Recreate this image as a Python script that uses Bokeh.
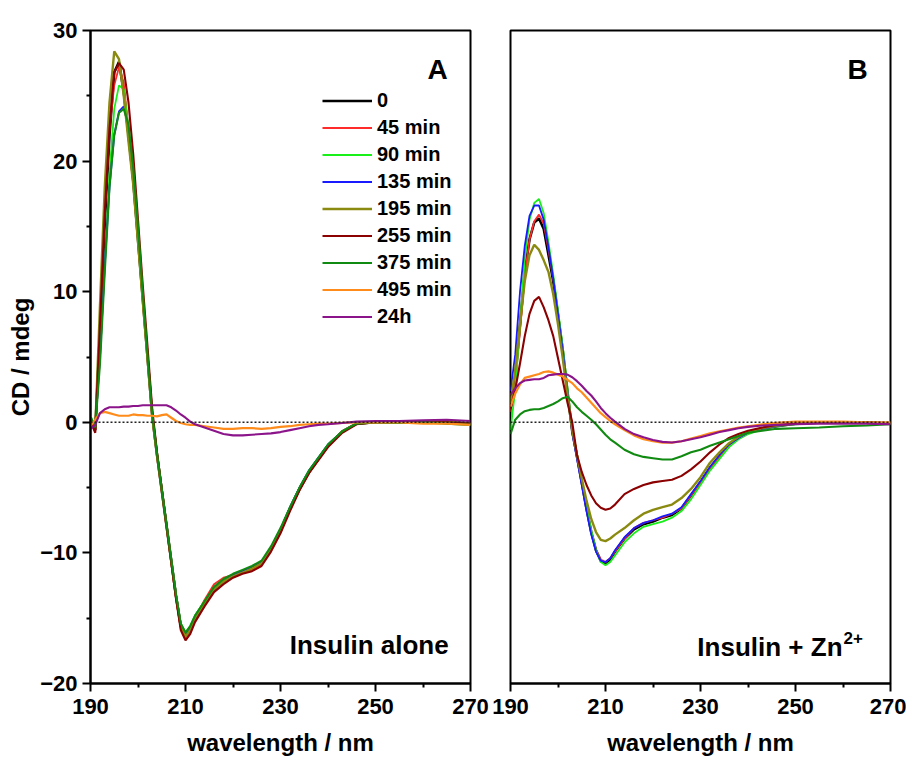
from bokeh.plotting import figure
from bokeh.models import Legend, LegendItem, Span, Label, Range1d, FixedTicker
from bokeh.layouts import row
from bokeh.embed import file_html
from bokeh.resources import INLINE

# ---------------- data ----------------
wavelength = [190, 191, 192, 193, 194, 195, 196, 197, 198, 199,
              200, 201, 202, 203, 204, 205, 206, 207, 208, 209,
              210, 211, 212,
              214, 216, 218, 220, 222, 224, 226, 228, 230, 232, 234, 236, 238, 240,
              243, 246, 250, 255, 260, 265, 270]

series_labels = ["0", "45 min", "90 min", "135 min", "195 min", "255 min", "375 min", "495 min", "24h"]

# Panel A: insulin alone
A_0 = [0.3, -0.6, 7.0, 15.2, 22.0, 26.8, 27.6, 25.3, 22.0, 18.5,
       14.0, 9.5, 5.0, 0.5, -2.5, -5.2, -7.9, -10.6, -13.3, -15.6,
       -16.3, -15.8, -15.0,
       -13.9, -12.8, -12.2, -11.8, -11.5, -11.2, -10.8, -9.7, -8.3, -6.6, -5.1, -3.8, -2.8, -1.8,
       -0.7, -0.1, 0.0, 0.0, 0.05, 0.05, -0.1]
A_45 = [0.2, -0.4, 7.5, 16.0, 22.5, 25.8, 27.2, 26.0, 22.4, 18.6,
        14.0, 9.4, 4.9, 0.4, -2.6, -5.3, -8.0, -10.7, -13.4, -15.8,
        -16.5, -16.0, -15.0,
        -13.6, -12.4, -11.9, -11.7, -11.5, -11.3, -10.9, -9.8, -8.4, -6.7, -5.2, -3.9, -2.8, -1.8,
        -0.7, -0.1, 0.0, 0.0, 0.05, 0.0, -0.1]
A_90 = [0.5, -0.3, 5.0, 12.0, 19.0, 24.0, 25.8, 25.5, 22.5, 18.8,
        14.2, 9.6, 5.0, 0.5, -2.4, -5.1, -7.8, -10.5, -13.2, -15.4,
        -16.1, -15.6, -14.8,
        -13.7, -12.7, -12.1, -11.7, -11.4, -11.1, -10.7, -9.6, -8.2, -6.5, -5.0, -3.7, -2.7, -1.7,
        -0.7, -0.1, 0.0, 0.0, 0.05, 0.05, -0.15]
A_135 = [0.4, -0.4, 5.0, 12.0, 18.0, 22.0, 23.8, 24.2, 22.5, 19.0,
         14.3, 9.7, 5.1, 0.6, -2.4, -5.1, -7.8, -10.5, -13.2, -15.5,
         -16.2, -15.7, -14.9,
         -13.8, -12.8, -12.2, -11.7, -11.4, -11.1, -10.7, -9.6, -8.2, -6.5, -5.0, -3.7, -2.7, -1.7,
         -0.7, -0.1, 0.0, 0.0, 0.0, 0.05, -0.1]
A_195 = [0.3, -0.5, 9.0, 18.0, 24.5, 28.4, 27.8, 25.0, 21.5, 18.2,
         13.8, 9.3, 4.9, 0.4, -2.5, -5.2, -7.9, -10.6, -13.3, -15.6,
         -16.4, -15.9, -15.0,
         -13.9, -12.8, -12.2, -11.8, -11.5, -11.2, -10.8, -9.7, -8.3, -6.6, -5.1, -3.8, -2.8, -1.8,
         -0.7, -0.1, 0.0, 0.0, 0.05, 0.05, -0.1]
A_255 = [0.1, -0.8, 7.5, 16.0, 22.5, 26.8, 27.5, 27.0, 24.5, 20.5,
         15.5, 10.5, 5.8, 1.0, -2.3, -5.1, -7.9, -10.7, -13.5, -15.9,
         -16.7, -16.2, -15.3,
         -14.1, -13.0, -12.4, -11.9, -11.6, -11.4, -11.0, -9.9, -8.5, -6.8, -5.2, -3.9, -2.9, -1.9,
         -0.8, -0.15, 0.0, 0.0, 0.0, 0.0, -0.1]
A_375 = [0.4, -0.4, 4.5, 11.5, 18.0, 22.0, 23.7, 24.0, 22.8, 19.5,
         15.0, 10.0, 5.2, 0.6, -2.4, -5.1, -7.8, -10.5, -13.2, -15.4,
         -16.1, -15.6, -14.8,
         -13.7, -12.6, -12.0, -11.6, -11.3, -11.0, -10.6, -9.5, -8.1, -6.5, -5.0, -3.7, -2.7, -1.7,
         -0.7, -0.1, 0.0, -0.05, 0.0, -0.1, -0.2]
A_495 = [-0.3, 0.2, 0.7, 0.8, 0.7, 0.6, 0.5, 0.5, 0.5, 0.6,
         0.55, 0.55, 0.5, 0.5, 0.45, 0.55, 0.6, 0.35, 0.1, -0.05,
         -0.15, -0.2, -0.2,
         -0.3, -0.4, -0.5, -0.5, -0.45, -0.45, -0.5, -0.45, -0.35, -0.3, -0.2, -0.15, -0.1, -0.1,
         -0.05, 0.0, 0.0, 0.0, -0.1, -0.1, -0.2]
A_24h = [-0.5, -0.2, 0.7, 1.0, 1.15, 1.15, 1.15, 1.2, 1.2, 1.25,
         1.25, 1.3, 1.3, 1.3, 1.3, 1.3, 1.3, 1.15, 0.9, 0.6,
         0.35, 0.05, -0.15,
         -0.4, -0.65, -0.9, -1.0, -1.0, -0.95, -0.9, -0.85, -0.75, -0.6, -0.45, -0.3, -0.2, -0.15,
         -0.05, 0.05, 0.1, 0.1, 0.15, 0.2, 0.1]

# Panel B: insulin + Zn2+
B_0 = [1.0, 3.5, 7.5, 11.5, 14.0, 15.3, 15.6, 14.8, 12.8, 10.8,
       8.2, 5.5, 2.3, -0.7, -2.6, -4.6, -6.6, -8.4, -9.8, -10.6,
       -10.8, -10.5, -9.9,
       -8.9, -8.2, -7.8, -7.6, -7.3, -7.1, -6.6, -5.6, -4.6, -3.5, -2.6, -1.8, -1.2, -0.8,
       -0.5, -0.3, -0.1, 0.0, 0.0, 0.0, -0.1]
B_45 = [0.8, 3.0, 7.0, 11.2, 14.0, 15.4, 15.9, 15.2, 13.2, 11.0,
        8.4, 5.6, 2.4, -0.6, -2.6, -4.6, -6.6, -8.4, -9.8, -10.5,
        -10.7, -10.4, -9.9,
        -8.9, -8.1, -7.7, -7.5, -7.3, -7.0, -6.6, -5.6, -4.6, -3.5, -2.6, -1.8, -1.2, -0.8,
        -0.5, -0.3, -0.1, 0.0, 0.0, 0.0, -0.1]
B_90 = [-0.6, 2.5, 7.5, 12.5, 15.5, 16.8, 17.1, 16.0, 13.8, 11.3,
        8.6, 5.8, 2.6, -0.5, -2.5, -4.5, -6.5, -8.3, -9.8, -10.7,
        -10.95, -10.7, -10.2,
        -9.2, -8.5, -8.0, -7.8, -7.6, -7.3, -6.8, -5.9, -4.8, -3.7, -2.8, -1.9, -1.3, -0.9,
        -0.55, -0.3, -0.15, -0.05, 0.0, 0.0, -0.1]
B_135 = [2.4, 5.2, 10.0, 13.5, 15.8, 16.6, 16.6, 15.5, 13.4, 11.0,
         8.3, 5.5, 2.3, -0.8, -2.8, -4.8, -6.8, -8.6, -9.9, -10.6,
         -10.7, -10.4, -9.8,
         -8.8, -8.1, -7.7, -7.5, -7.2, -7.0, -6.5, -5.5, -4.5, -3.4, -2.5, -1.7, -1.2, -0.8,
         -0.5, -0.3, -0.1, 0.0, 0.0, 0.0, -0.1]
B_195 = [1.5, 4.0, 7.5, 10.8, 12.8, 13.6, 13.2, 12.4, 11.5, 9.8,
         7.5, 4.9, 2.0, -0.6, -2.5, -4.3, -6.0, -7.4, -8.4, -9.0,
         -9.1, -8.9, -8.6,
         -8.1, -7.5, -7.0, -6.7, -6.5, -6.3, -5.8, -5.1, -4.2, -3.1, -2.3, -1.6, -1.1, -0.75,
         -0.45, -0.25, -0.1, 0.0, 0.0, 0.0, -0.1]
B_255 = [1.0, 2.5, 4.5, 6.6, 8.3, 9.3, 9.6, 8.8, 7.8, 6.6,
         4.9, 3.2, 1.5, 0.0, -2.5, -3.8, -4.8, -5.6, -6.2, -6.55,
         -6.7, -6.6, -6.3,
         -5.5, -5.1, -4.8, -4.6, -4.5, -4.4, -4.1, -3.6, -3.0, -2.3, -1.7, -1.2, -0.9, -0.65,
         -0.4, -0.2, -0.1, 0.0, 0.0, 0.0, -0.1]
B_375 = [-0.9, 0.2, 0.6, 0.85, 0.95, 1.0, 1.0, 1.1, 1.25, 1.4,
         1.6, 1.85, 1.95, 1.6, 1.15, 0.8, 0.5, 0.2, -0.15, -0.55,
         -0.95, -1.3, -1.55,
         -2.1, -2.45, -2.65, -2.75, -2.85, -2.85, -2.6, -2.3, -2.1, -1.8, -1.55, -1.3, -1.05, -0.8,
         -0.65, -0.5, -0.45, -0.4, -0.3, -0.25, -0.15]
B_495 = [1.2, 2.2, 2.9, 3.4, 3.5, 3.6, 3.7, 3.85, 3.9, 3.8,
         3.65, 3.5, 3.25, 3.0, 2.6, 2.3, 1.9, 1.5, 1.1, 0.7,
         0.4, 0.1, -0.15,
         -0.6, -1.0, -1.3, -1.45, -1.55, -1.55, -1.45, -1.25, -1.05, -0.85, -0.7, -0.55, -0.4, -0.3,
         -0.15, -0.05, 0.05, 0.05, 0.05, 0.0, 0.0]
B_24h = [2.1, 2.6, 3.0, 3.2, 3.25, 3.3, 3.3, 3.4, 3.6, 3.65,
         3.7, 3.7, 3.65, 3.45, 3.15, 2.8, 2.4, 2.05, 1.6, 1.1,
         0.7, 0.35, 0.05,
         -0.5, -0.9, -1.15, -1.35, -1.5, -1.55, -1.45, -1.3, -1.15, -0.95, -0.75, -0.6, -0.45, -0.35,
         -0.25, -0.2, -0.15, -0.1, -0.1, -0.1, -0.15]

x_ticks = [190, 210, 230, 250, 270]
x_minor = [200, 220, 240, 260]
y_ticks = [-20, -10, 0, 10, 20, 30]
y_minor = [-15, -5, 5, 15, 25]

panel_A = [A_0, A_45, A_90, A_135, A_195, A_255, A_375, A_495, A_24h]
panel_B = [B_0, B_45, B_90, B_135, B_195, B_255, B_375, B_495, B_24h]

# ---------------- style ----------------
FONT = "Liberation Sans"
colors = ["#000000", "#ff2a2a", "#19f019", "#1a1aff", "#8a8a10",
          "#8b0000", "#118a11", "#ff8c1a", "#8b148b"]
widths = [2.6, 1.8, 1.8, 1.8, 2.4, 2.1, 2.1, 2.2, 2.1]


def make_panel(series, left_border, right_border, show_y):
    p = figure(frame_width=380, frame_height=653,
               x_range=Range1d(190, 270), y_range=Range1d(-20, 30),
               output_backend="svg", toolbar_location=None,
               min_border_left=left_border, min_border_right=right_border,
               min_border_top=30, min_border_bottom=60,
               background_fill_color="white", border_fill_color="white")
    p.xgrid.visible = False
    p.ygrid.visible = False
    p.outline_line_color = "black"
    p.outline_line_width = 2
    p.outline_line_alpha = 1

    p.add_layout(Span(location=0, dimension="width", line_color="#222222",
                      line_dash="2 2", line_width=1.6))

    renderers = []
    for ys, c, w in zip(series, colors, widths):
        r = p.line(wavelength, ys, line_color=c, line_width=w)
        renderers.append(r)

    p.xaxis.ticker = FixedTicker(ticks=x_ticks, minor_ticks=x_minor)
    p.yaxis.ticker = FixedTicker(ticks=y_ticks, minor_ticks=y_minor)
    for ax in [p.xaxis[0], p.yaxis[0]]:
        ax.axis_line_width = 2
        ax.major_tick_line_width = 2
        ax.minor_tick_line_width = 2
        ax.major_tick_in = 0
        ax.major_tick_out = 8
        ax.minor_tick_in = 0
        ax.minor_tick_out = 4
        ax.major_label_text_font = FONT
        ax.major_label_text_font_style = "bold"
        ax.major_label_text_font_size = "22px"
        ax.major_label_text_color = "black"
        ax.axis_label_text_font = FONT
        ax.axis_label_text_font_style = "bold"
        ax.axis_label_text_font_size = "24px"
        ax.axis_label_text_color = "black"
    p.xaxis.axis_label = "wavelength / nm"
    p.xaxis.major_label_standoff = 7
    p.xaxis.axis_label_standoff = 12
    p.yaxis.major_label_standoff = 5
    p.yaxis.axis_label_standoff = 3
    if show_y:
        p.yaxis.axis_label = "CD / mdeg"
    else:
        p.yaxis.visible = False
    return p, renderers


p1, rA = make_panel(panel_A, 90, 20, True)
p2, rB = make_panel(panel_B, 20, 16, False)

legend = Legend(items=[LegendItem(label=lbl, renderers=[r]) for lbl, r in zip(series_labels, rA)],
                location=(232, 355), orientation="vertical",
                glyph_width=50, glyph_height=21, label_height=21, label_standoff=5,
                spacing=4, padding=0, margin=0,
                border_line_alpha=0, background_fill_alpha=0,
                label_text_font=FONT, label_text_font_style="bold",
                label_text_font_size="20px", label_text_color="black")
p1.add_layout(legend)


def add_text(p, x, y, txt, size, align="right"):
    p.add_layout(Label(x=x, y=y, text=txt, text_align=align, text_baseline="alphabetic",
                       text_font=FONT, text_font_style="bold", text_font_size=size,
                       text_color="black"))


add_text(p1, 265.2, 27.05, "A", "28px")
add_text(p1, 265.4, -17.07, "Insulin alone", "26px")
add_text(p2, 265.2, 27.05, "B", "28px")
add_text(p2, 259.9, -17.2, "Insulin + Zn", "26px")
add_text(p2, 260.1, -16.55, "2+", "17px", align="left")

layout = row(p1, p2, spacing=0)
open("out.html", "w").write(file_html(layout, INLINE))
